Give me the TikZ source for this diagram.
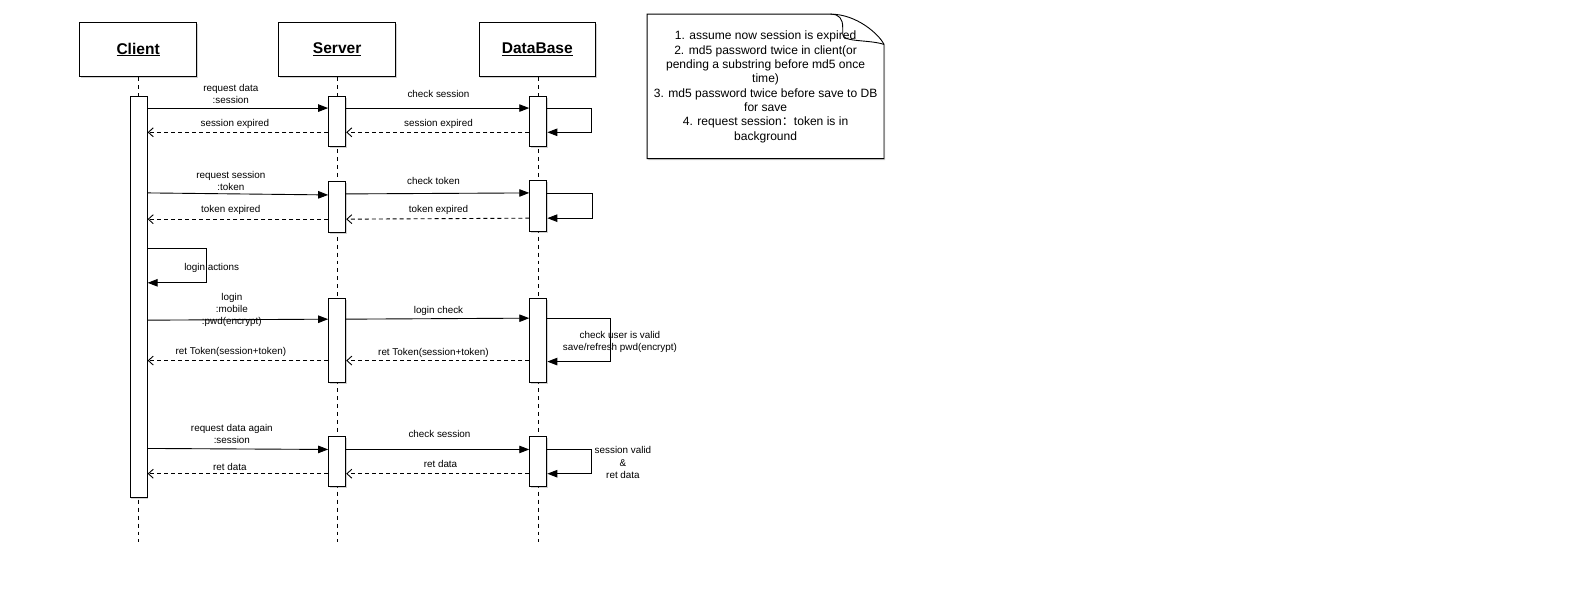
\documentclass[tikz,border=0pt]{standalone}
\usepackage{fontspec}
\setmainfont{Liberation Sans}
\newfontfamily\cjk{Noto Sans CJK SC}
\usetikzlibrary{arrows.meta,shadows,calc}
\begin{document}
\begin{tikzpicture}[x=1.008bp,y=-1.01bp,
  every node/.style={font=\fontsize{9.9}{12.1}\selectfont, inner sep=0pt},
  shad/.style={drop shadow={shadow xshift=1.2pt,shadow yshift=-1.6pt,opacity=0.35}},
  head/.style={draw, fill=white, minimum width=116.5bp, minimum height=54.5bp, line width=0.9pt, shad,
    font=\fontsize{15.6}{18}\selectfont\bfseries},
  act/.style={draw, fill=white, minimum width=17.2bp, line width=0.9pt, shad},
  life/.style={dash pattern=on 4pt off 4pt, line width=0.9pt},
  msg/.style={line width=0.9pt, -{Triangle[length=10pt,width=7.5pt]}},
  ret/.style={line width=0.9pt, dash pattern=on 4pt off 3pt, -{Straight Barb[length=5pt,width=9pt]}},
  lbl/.style={align=center},
  notetext/.style={align=center, font=\fontsize{12.1}{14.4}\selectfont}]
\fill[white] (0,0) rectangle (1571.4,605.94);

% headers
\node[head] (client) at (137,49) {\underline{Client}};
\node[head] (server) at (334.5,49) {\underline{Server}};
\node[head] (db) at (533,49) {\underline{DataBase}};

% lifeline ends
\coordinate (cend) at (137.5,537);
\coordinate (send) at (334.5,537);
\coordinate (dend) at (534,537);
\draw[life] (client.south -| cend) -- (cend);
\draw[life] (server.south -| send) -- (send);
\draw[life] (db.south -| dend) -- (dend);

% activations
\node[act, minimum height=400bp] (ca) at (137.5,294) {};
\node[act, minimum height=50.5bp] (s1) at (334.5,120) {};
\node[act, minimum height=50.5bp] (s2) at (334.5,205) {};
\node[act, minimum height=84.8bp] (s3) at (334.5,337) {};
\node[act, minimum height=50.5bp] (s4) at (334.5,457) {};
\node[act, minimum height=50.5bp] (d1) at (534,120) {};
\node[act, minimum height=50.5bp] (d2) at (534,204) {};
\node[act, minimum height=84.8bp] (d3) at (534,337) {};
\node[act, minimum height=50.5bp] (d4) at (534,457) {};

% ---- block 1
\draw[msg] (ca.east |- 0,107) -- (s1.west |- 0,107);
\node[lbl] (l1a) at (229,93) {request data\\:session};
\draw[msg] (s1.east |- 0,107) -- (d1.west |- 0,107);
\node (l1b) at (435,93) {check session};
\coordinate (r1) at (587,107);
\draw[msg] (d1.east |- 0,107) -- (r1) |- (d1.east |- 0,131);
\draw[ret] (s1.west |- 0,131) -- (ca.east |- 0,131);
\node (l1c) at (233,123) {session expired};
\draw[ret] (d1.west |- 0,131) -- (s1.east |- 0,131);
\node (l1d) at (435,123) {session expired};

% ---- block 2
\draw[msg] (ca.east |- 0,191) -- (s2.west |- 0,193);
\node[lbl] (l2a) at (229,179.5) {request session\\:token};
\draw[msg] (s2.east |- 0,192) -- (d2.west |- 0,191);
\node (l2b) at (430,179) {check token};
\coordinate (r2) at (588,192);
\draw[msg] (d2.east |- 0,192) -- (r2) |- (d2.east |- 0,216);
\draw[ret] (s2.west |- 0,217) -- (ca.east |- 0,217);
\node (l2c) at (229,208) {token expired};
\draw[ret] (d2.west |- 0,216) -- (s2.east |- 0,217);
\node (l2d) at (435,208) {token expired};

% ---- login actions
\coordinate (r3) at (205,246);
\draw[msg] (ca.east |- 0,246) -- (r3) |- (ca.east |- 0,280);
\node (l3) at (210,265) {login actions};

% ---- block 3
\draw[msg] (ca.east |- 0,317) -- (s3.west |- 0,316);
\node[lbl] (l4a) at (230,307) {login\\:mobile\\:pwd(encrypt)};
\draw[msg] (s3.east |- 0,316) -- (d3.west |- 0,315);
\node (l4b) at (435,308) {login check};
\coordinate (r4) at (606,315);
\draw[msg] (d3.east |- 0,315) -- (r4) |- (d3.east |- 0,358);
\node[lbl, font=\fontsize{9.9}{11.6}\selectfont] (l4e) at (615,338.5) {check user is valid\\save/refresh pwd(encrypt)};
\draw[ret] (s3.west |- 0,357) -- (ca.east |- 0,357);
\node (l4c) at (229,348) {ret Token(session+token)};
\draw[ret] (d3.west |- 0,357) -- (s3.east |- 0,357);
\node (l4d) at (430,349) {ret Token(session+token)};

% ---- block 4
\draw[msg] (ca.east |- 0,444) -- (s4.west |- 0,445);
\node[lbl] (l5a) at (230,429.5) {request data again\\:session};
\draw[msg] (s4.east |- 0,445) -- (d4.west |- 0,445);
\node (l5b) at (436,430) {check session};
\coordinate (r5) at (587,445);
\draw[msg] (d4.east |- 0,445) -- (r5) |- (d4.east |- 0,469);
\node[lbl, font=\fontsize{9.9}{12.6}\selectfont] (l5e) at (618,458) {session valid\\\&\\ret data};
\draw[ret] (s4.west |- 0,469) -- (ca.east |- 0,469);
\node (l5c) at (228,462) {ret data};
\draw[ret] (d4.west |- 0,469) -- (s4.east |- 0,469);
\node (l5d) at (437,459) {ret data};

% ---- note
\path[draw, fill=white, line width=0.9pt, shad] (642,14) -- (824,14) .. controls (850,14) and (872,34) .. (877,44) -- (877,157) -- (642,157) -- cycle;
\draw[line width=0.9pt] (824,14) .. controls (833,14) and (836,19) .. (836,27) -- (836,34) .. controls (836,42) and (862,39) .. (877,44);
\node[notetext] (note) at (759.5,86) {1. assume now session is expired\\2. md5 password twice in client(or\\pending a substring before md5 once\\time)\\3. md5 password twice before save to DB\\for save\\4. request session{\cjk ：}token is in\\background};

\pgfresetboundingbox
\useasboundingbox (0,0) rectangle (1571.4,605.94);
\end{tikzpicture}
\end{document}
